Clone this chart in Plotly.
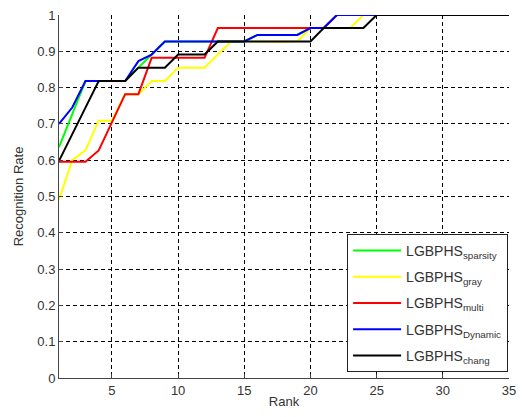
import plotly.graph_objects as go

rank = list(range(1, 36))

sparsity = [0.636, 0.727, 0.818, 0.818, 0.818, 0.818, 0.855, 0.891, 0.927, 0.927,
            0.927, 0.927, 0.927, 0.927, 0.927, 0.945, 0.945, 0.945, 0.945, 0.964,
            0.964, 1.0, 1.0, 1.0, 1.0, 1.0, 1.0, 1.0, 1.0, 1.0,
            1.0, 1.0, 1.0, 1.0, 1.0]
gray = [0.491, 0.600, 0.627, 0.709, 0.709, 0.782, 0.782, 0.818, 0.818, 0.855,
        0.855, 0.855, 0.891, 0.927, 0.927, 0.927, 0.927, 0.927, 0.927, 0.964,
        0.964, 0.964, 0.964, 1.0, 1.0, 1.0, 1.0, 1.0, 1.0, 1.0,
        1.0, 1.0, 1.0, 1.0, 1.0]
multi = [0.596, 0.596, 0.596, 0.627, 0.703, 0.782, 0.782, 0.882, 0.882, 0.882,
         0.882, 0.882, 0.964, 0.964, 0.964, 0.964, 0.964, 0.964, 0.964, 0.964,
         0.964, 1.0, 1.0, 1.0, 1.0, 1.0, 1.0, 1.0, 1.0, 1.0,
         1.0, 1.0, 1.0, 1.0, 1.0]
dynamic = [0.700, 0.745, 0.818, 0.818, 0.818, 0.818, 0.873, 0.891, 0.927, 0.927,
           0.927, 0.927, 0.927, 0.927, 0.927, 0.945, 0.945, 0.945, 0.945, 0.964,
           0.964, 1.0, 1.0, 1.0, 1.0, 1.0, 1.0, 1.0, 1.0, 1.0,
           1.0, 1.0, 1.0, 1.0, 1.0]
chang = [0.598, 0.673, 0.745, 0.818, 0.818, 0.818, 0.855, 0.855, 0.855, 0.891,
         0.891, 0.891, 0.927, 0.927, 0.927, 0.927, 0.927, 0.927, 0.927, 0.927,
         0.964, 0.964, 0.964, 0.964, 1.0, 1.0, 1.0, 1.0, 1.0, 1.0,
         1.0, 1.0, 1.0, 1.0, 1.0]

series = [
    ("LGBPHS<sub>sparsity</sub>", sparsity, "#00ff00"),
    ("LGBPHS<sub>gray</sub>", gray, "#ffff00"),
    ("LGBPHS<sub>multi</sub>", multi, "#ff0000"),
    ("LGBPHS<sub>Dynamic</sub>", dynamic, "#0000ff"),
    ("LGBPHS<sub>chang</sub>", chang, "#000000"),
]

x_ticks = [5, 10, 15, 20, 25, 30, 35]
y_ticks = [0, 0.1, 0.2, 0.3, 0.4, 0.5, 0.6, 0.7, 0.8, 0.9, 1]
y_labels = ["0", "0.1", "0.2", "0.3", "0.4", "0.5", "0.6", "0.7", "0.8", "0.9", "1"]

fig = go.Figure()
for i, (name, vals, col) in enumerate(series):
    fig.add_trace(go.Scatter(x=rank, y=vals, mode="lines", name=name,
                             legendgroup=f"g{i}",
                             line=dict(color=col, width=2)))

font_family = "Liberation Sans, Arial, sans-serif"
fig.update_layout(
    width=523, height=417,
    margin=dict(l=59, r=7, t=15, b=39),
    paper_bgcolor="white", plot_bgcolor="white",
    font=dict(family=font_family, size=13, color="#333333"),
    showlegend=True,
    legend=dict(
        x=0.998, y=0.0165, xanchor="right", yanchor="bottom",
        bgcolor="white", bordercolor="#222222", borderwidth=1,
        font=dict(family=font_family, size=14, color="#333333"),
        tracegroupgap=5, itemwidth=48,
    ),
    xaxis=dict(
        range=[1, 35], tickvals=x_ticks, ticks="inside", ticklen=4,
        tickcolor="#444444", ticklabeloverflow="allow",
        showline=True, linecolor="#444444", linewidth=1,
        showgrid=True, gridcolor="#000000", gridwidth=1, griddash="4px,3px",
        zeroline=False,
        title=dict(text="Rank", font=dict(size=13), standoff=0),
    ),
    yaxis=dict(
        range=[0, 1], tickvals=y_ticks, ticktext=y_labels, ticks="inside",
        ticklen=4, tickcolor="#444444",
        showline=True, linecolor="#444444", linewidth=1,
        showgrid=True, gridcolor="#000000", gridwidth=1, griddash="4px,3px",
        zeroline=False,
        title=dict(text="Recognition Rate", font=dict(size=13), standoff=10),
    ),
)

fig.write_html(
    "out.html",
    config={"displayModeBar": False},
    post_script="document.body.style.margin='0';document.body.style.overflow='hidden';",
)
